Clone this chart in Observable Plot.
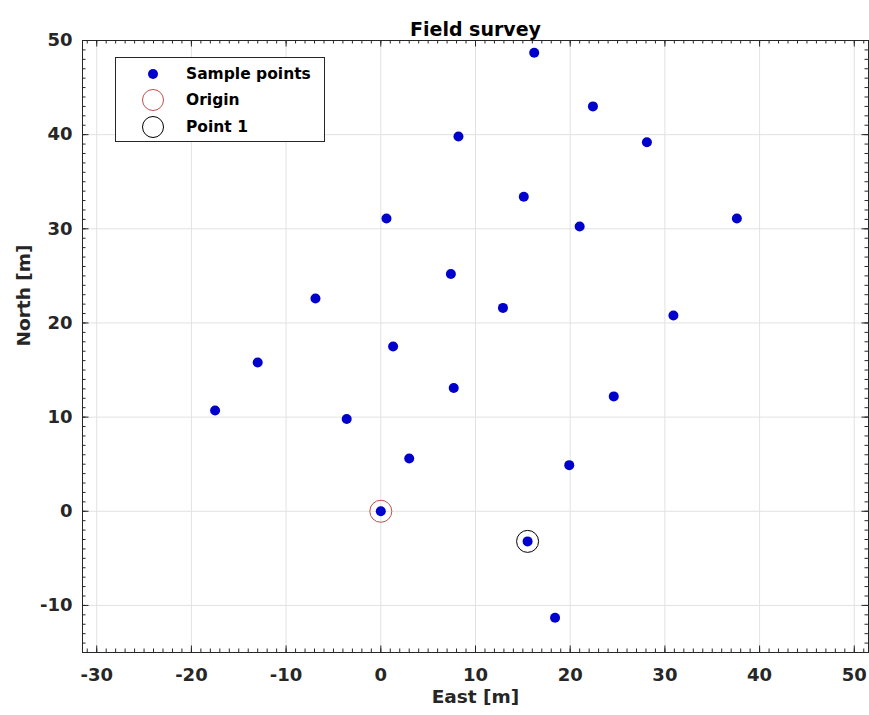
<!DOCTYPE html>
<html>
<head>
<meta charset="utf-8">
<script src="https://cdn.jsdelivr.net/npm/d3@7"></script>
<script src="https://cdn.jsdelivr.net/npm/@observablehq/plot@0.6"></script>
<style>
html, body { margin: 0; padding: 0; background: #fff; }
#wrap { position: relative; width: 869px; height: 715px; font-family: "DejaVu Sans", sans-serif; font-weight: bold; }
#legend { position: absolute; left: 115px; top: 57px; width: 210px; height: 85px; box-sizing: border-box; border: 1px solid #262626; background: #fff; }
.lg-mark { position: absolute; }
.lg-text { position: absolute; left: 70px; font-size: 15.5px; line-height: 18px; color: #000; white-space: nowrap; }
</style>
</head>
<body>
<div id="wrap"><div id="legend"></div></div>
<script>
// ---- data ----
const sampleEast  = [16.2, 22.4, 8.2, 28.1, 15.1, 0.6, 21.0, 37.6, 7.4, -6.9, 12.9, 30.9, 1.3, -13.0, 7.7, 24.6, -17.5, -3.6, 3.0, 19.9, 0.0, 15.5, 18.4];
const sampleNorth = [48.7, 43.0, 39.8, 39.2, 33.4, 31.1, 30.25, 31.1, 25.2, 22.6, 21.6, 20.8, 17.5, 15.8, 13.1, 12.2, 10.7, 9.8, 5.6, 4.9, 0.0, -3.2, -11.3];
const originEast = [0];
const originNorth = [0];
const point1East = [15.5];
const point1North = [-3.2];
const xTickValues = [-30, -20, -10, 0, 10, 20, 30, 40, 50];
const yTickValues = [-10, 0, 10, 20, 30, 40, 50];
const legendLabels = ["Sample points", "Origin", "Point 1"];
const titleText = "Field survey";
const xLabel = "East [m]";
const yLabel = "North [m]";

// ---- layout ----
const W = 869, H = 715;
const mL = 82, mR = 1, mT = 40, mB = 63;
const innerW = W - mL - mR, innerH = H - mT - mB;
const xDomain = [-31.5, 51.5], yDomain = [-15, 50];
const xMinor = d3.range(Math.ceil(xDomain[0]), Math.floor(xDomain[1]) + 1);
const yMinor = d3.range(yDomain[0], yDomain[1] + 1);

const samples = sampleEast.map((e, i) => ({east: e, north: sampleNorth[i]}));
const origin = originEast.map((e, i) => ({east: e, north: originNorth[i]}));
const point1 = point1East.map((e, i) => ({east: e, north: point1North[i]}));

const ink = "#262626";
const gridColor = "#e2e2e2";
const blue = "#0000cc";
const red = "#c0504d";
const fmt = d => String(d);

const chart = Plot.plot({
  width: W, height: H,
  marginLeft: mL, marginRight: mR, marginTop: mT, marginBottom: mB,
  style: {fontFamily: "DejaVu Sans, sans-serif", fontWeight: "bold", color: ink, background: "transparent"},
  x: {domain: xDomain},
  y: {domain: yDomain},
  marks: [
    Plot.ruleX(xTickValues, {stroke: gridColor, strokeWidth: 1}),
    Plot.ruleY(yTickValues, {stroke: gridColor, strokeWidth: 1}),
    // minor ticks (inward) on all four sides
    Plot.ruleX(xMinor, {stroke: ink, insetTop: innerH - 3.5}),
    Plot.ruleX(xMinor, {stroke: ink, insetBottom: innerH - 3.5}),
    Plot.ruleY(yMinor, {stroke: ink, insetRight: innerW - 3.5}),
    Plot.ruleY(yMinor, {stroke: ink, insetLeft: innerW - 3.5}),
    // major ticks
    Plot.ruleX(xTickValues, {stroke: ink, insetTop: innerH - 6.5}),
    Plot.ruleX(xTickValues, {stroke: ink, insetBottom: innerH - 6.5}),
    Plot.ruleY(yTickValues, {stroke: ink, insetRight: innerW - 6.5}),
    Plot.ruleY(yTickValues, {stroke: ink, insetLeft: innerW - 6.5}),
    Plot.frame({stroke: ink, strokeWidth: 1}),
    Plot.axisX(xTickValues, {anchor: "bottom", tickSize: 0, tickPadding: 16, fontSize: 18, fontWeight: "bold", tickFormat: fmt, label: null, fill: ink}),
    Plot.axisY(yTickValues, {anchor: "left", tickSize: 0, tickPadding: 10, fontSize: 18, fontWeight: "bold", tickFormat: fmt, label: null, fill: ink}),
    Plot.dot(samples, {x: "east", y: "north", r: 5, fill: blue, stroke: null}),
    Plot.dot(origin, {x: "east", y: "north", r: 11, fill: "none", stroke: red, strokeWidth: 1}),
    Plot.dot(point1, {x: "east", y: "north", r: 11, fill: "none", stroke: "#000", strokeWidth: 1}),
    Plot.text([titleText], {text: d => d, frameAnchor: "top", dy: -18, fontSize: 19, fontWeight: "bold", fill: "#000"}),
    Plot.text([xLabel], {text: d => d, frameAnchor: "bottom", dy: 50, fontSize: 18.5, fontWeight: "bold", fill: ink}),
    Plot.text([yLabel], {text: d => d, frameAnchor: "left", dx: -58, rotate: -90, fontSize: 18.5, fontWeight: "bold", fill: ink})
  ]
});
chart.style.position = "absolute";
chart.style.left = "0";
chart.style.top = "0";
const wrap = document.getElementById("wrap");
wrap.insertBefore(chart, wrap.firstChild);

// ---- legend ----
const legend = document.getElementById("legend");
const rowsY = [15.5, 42, 68.5];
const markers = [
  {r: 5, fill: blue, stroke: "none"},
  {r: 10.5, fill: "none", stroke: red},
  {r: 10.5, fill: "none", stroke: "#000"}
];
legendLabels.forEach((lab, i) => {
  const m = markers[i];
  const s = 24;
  const svg = d3.create("svg").attr("class", "lg-mark").attr("width", s).attr("height", s)
    .style("left", (37 - s / 2) + "px").style("top", (rowsY[i] - s / 2) + "px");
  svg.append("circle").attr("cx", s / 2).attr("cy", s / 2).attr("r", m.r)
    .attr("fill", m.fill).attr("stroke", m.stroke).attr("stroke-width", 1);
  legend.appendChild(svg.node());
  const t = document.createElement("div");
  t.className = "lg-text";
  t.style.top = (rowsY[i] - 9) + "px";
  t.textContent = lab;
  legend.appendChild(t);
});
</script>
</body>
</html>
